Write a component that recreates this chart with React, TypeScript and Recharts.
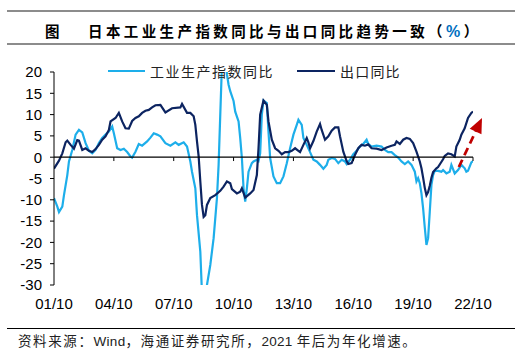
import React from 'react';
import { LineChart, Line, XAxis, YAxis, ReferenceLine } from 'recharts';

// x = months since 2001-10
const tickMonths = [0, 36, 72, 108, 144, 180, 216, 252];
const tickLabels = ['01/10', '04/10', '07/10', '10/10', '13/10', '16/10', '19/10', '22/10'];
const yTicks = [-30, -25, -20, -15, -10, -5, 0, 5, 10, 15, 20];

const seriesNames = ['工业生产指数同比', '出口同比'];
const seriesColors = ['#1DAEEA', '#0C2461'];

const ipMonths = [0, 2, 3, 5, 6, 8, 9, 11, 13, 15, 17, 19, 21, 23, 25, 27, 29, 31, 33, 35, 36, 38, 40, 42, 44, 46, 47, 49, 51, 53, 56, 58, 60, 62, 64, 67, 70, 73, 75, 78, 80, 82, 83, 85, 86, 88, 89, 90, 91, 92, 94, 96, 98, 99, 100, 101, 102, 103, 104, 105, 106, 108, 109, 111, 112, 113, 114, 115, 116, 117, 119, 120, 122, 123, 124, 125, 126, 128, 129, 130, 132, 134, 136, 138, 140, 142, 144, 146, 147, 149, 150, 152, 154, 156, 158, 160, 162, 164, 165, 167, 169, 171, 173, 175, 176, 178, 180, 182, 184, 186, 188, 189, 191, 194, 197, 199, 201, 203, 205, 207, 209, 211, 213, 215, 217, 218, 219, 220, 221, 222, 223, 224, 225, 226, 227, 228, 229, 231, 233, 234, 236, 238, 239, 241, 243, 245, 247, 248, 249, 251, 252];
const ipYoY = [-9.6, -11.6, -12.9, -11.6, -8.9, -4.2, -1.0, 1.7, 5.3, 6.4, 5.8, 3.3, 1.5, 0.9, 1.7, 3.3, 4.5, 5.3, 6.0, 7.2, 5.6, 2.1, 1.7, 2.0, 1.2, 0.2, -0.1, 1.3, 3.1, 2.7, 3.7, 4.6, 5.6, 5.3, 4.9, 3.3, 2.7, 3.5, 2.9, 3.5, 2.5, -1.0, -3.4, -7.3, -13.6, -22.2, -32, -36, -33, -30, -25.3, -19, -9.6, -1.8, 10, 21.7, 27, 25, 19.5, 17, 15.5, 13.2, 10.7, 8.4, 4.5, -0.2, -7.3, -10.4, -7.3, -3.4, -1.4, -1.0, -0.6, -0.9, 0.9, 10, 13.3, 12.7, 6, -0.2, -4.5, -6.1, -6.1, -4.5, -1.4, 2.1, 5.3, 7.6, 8.8, 7.6, 4.5, 2.9, 1.2, -0.6, -1.0, -1.8, -2.7, -1.8, -0.6, -0.2, -0.4, -1.4, -0.6, -1.0, -1.6, -0.6, 0.7, 1.5, 2.5, 3.1, 4.1, 3.1, 2.5, 2.7, 2.5, 1.7, 1.2, 1.2, 0.5, -0.1, -1.0, -1.6, -1.0, -1.8, -3.4, -5.7, -4.9, -6.1, -8.5, -12, -16.5, -20.6, -19, -12.8, -6.5, -4.2, -3.2, -3.2, -3.4, -3.0, -3.8, -3.4, -1.8, -3.8, -3.0, -1.8, -2.6, -3.4, -3.2, -1.2, -0.9];

const exportMonths = [0, 3, 5, 7, 8, 10, 12, 14, 15, 17, 19, 21, 23, 25, 27, 29, 31, 33, 34, 37, 39, 41, 43, 45, 47, 49, 51, 53, 55, 57, 59, 61, 64, 67, 71, 76, 77, 80, 82, 84, 85, 86, 87, 88, 89, 90, 91, 92, 94, 97, 100, 102, 104, 106, 107, 110, 112, 113, 115, 118, 120, 122, 123, 124, 126, 128, 129, 131, 133, 135, 137, 139, 141, 143, 145, 147, 148, 150, 152, 153, 154, 156, 158, 160, 161, 163, 165, 167, 169, 171, 172, 174, 176, 177, 179, 181, 183, 185, 187, 189, 191, 194, 197, 200, 203, 205, 206, 208, 210, 212, 214, 216, 218, 220, 221, 222, 223, 224, 225, 226, 227, 228, 230, 231, 234, 235, 237, 239, 241, 242, 244, 245, 247, 249, 251, 252];
const exportYoY = [-2.7, -0.8, 0.9, 3.5, 3.9, 2.9, 2.0, 4.0, 3.9, 1.7, 2.1, 1.5, 1.2, 1.9, 2.9, 4.1, 4.9, 6.4, 8.4, 9.2, 10.4, 8.4, 6.8, 6.7, 8.5, 9.2, 9.6, 10.4, 10.9, 11.1, 11.7, 12.2, 12.3, 10.5, 11.5, 11.7, 12.5, 10.4, 10.4, 9.6, 7.6, 3.7, 0.2, -5.7, -11.2, -14.0, -13.6, -11.2, -9.6, -8.9, -7.9, -6.9, -5.7, -6.1, -7.5, -8.5, -8.1, -7.3, -9.5, -8.5, -7.7, -4.2, 2.1, 10.0, 13.3, 12.3, 8.4, 4.1, 2.1, 1.5, 0.7, 1.2, 1.2, 1.5, 2.1, 1.5, 1.2, 2.9, 4.5, 3.5, 2.1, 3.8, 6.0, 7.8, 6.4, 4.1, 4.9, 6.2, 7.0, 7.0, 4.9, 1.3, -0.9, -1.6, -1.4, 0.5, 2.1, 2.9, 2.7, 3.0, 2.1, 2.0, 1.7, 2.3, 2.7, 2.9, 3.7, 3.1, 4.1, 4.5, 4.3, 3.3, 1.3, -1.0, -2.6, -4.8, -7.2, -8.9, -8.2, -6.7, -4.8, -3.5, -2.6, -2.3, -0.5, 0.3, 0.9, 0.7, 0.2, 2.5, 4.1, 5.3, 6.8, 9.2, 10.4, 10.7];

// trend arrow (month, value)
const arrowTail = { m: 243.5, v: -2.3 };
const arrowTip = { m: 257.4, v: 9.2 };

const ipData = ipMonths.map((m, i) => ({ m, v: ipYoY[i] }));
const exportData = exportMonths.map((m, i) => ({ m, v: exportYoY[i] }));

const latin = '"Liberation Sans", Arial, "Noto Sans CJK SC", sans-serif';
const cjk = '"Noto Sans CJK SC", "Liberation Sans", sans-serif';

const ArrowShape = (props: any) => {
  const { x1, y1, x2, y2 } = props;
  const dx = x2 - x1;
  const dy = y2 - y1;
  const len = Math.hypot(dx, dy) || 1;
  const ux = dx / len;
  const uy = dy / len;
  const headLen = 15;
  const headW = 6.5;
  const bx = x2 - ux * headLen;
  const by = y2 - uy * headLen;
  const px = -uy;
  const py = ux;
  return (
    <g>
      <line x1={x1} y1={y1} x2={bx + ux * 1} y2={by + uy * 1} stroke="#C00000" strokeWidth={2.8} strokeDasharray="8 5" />
      <polygon
        points={`${x2},${y2} ${bx + px * headW},${by + py * headW} ${bx - px * headW},${by - py * headW}`}
        fill="#C00000"
      />
    </g>
  );
};

export default function App() {
  return (
    <div style={{ position: 'absolute', left: 0, top: 0, width: 525, height: 359, background: '#fff', overflow: 'hidden' }}>
      <div style={{ position: 'absolute', left: 7, top: 10, width: 508, height: 2, background: '#8C8C8C' }} />
      <div style={{ position: 'absolute', left: 7, top: 43, width: 508, height: 2, background: '#8C8C8C' }} />
      <div style={{ position: 'absolute', left: 45, top: 23.5, fontFamily: cjk, fontWeight: 700, fontSize: 14.5, lineHeight: '14.5px', color: '#000', whiteSpace: 'nowrap' }}>图</div>
      <div style={{ position: 'absolute', left: 88, top: 23.5, fontFamily: cjk, fontWeight: 700, fontSize: 14.5, lineHeight: '14.5px', letterSpacing: 3.4, color: '#000', whiteSpace: 'nowrap' }}>
        日本工业生产指数同比与出口同比趋势一致（<span style={{ color: '#0070C0', fontFamily: latin, fontSize: 16 }}>%</span>）
      </div>

      <div style={{ position: 'absolute', left: 0, top: 0 }}>
        <LineChart width={525} height={359} margin={{ top: 72, right: 52, bottom: 44, left: 0 }}>
          <XAxis
            dataKey="m"
            type="number"
            domain={[0, 252]}
            ticks={tickMonths}
            interval={0}
            allowDataOverflow
            tickFormatter={(v: number) => tickLabels[tickMonths.indexOf(v)] ?? ''}
            axisLine={false}
            tickLine={false}
            tickSize={6}
            tickMargin={7}
            height={30}
            tick={{ fontSize: 15, fill: '#000', fontFamily: latin }}
          />
          <YAxis
            type="number"
            domain={[-30, 20]}
            ticks={yTicks}
            interval={0}
            allowDataOverflow
            width={54}
            axisLine={{ stroke: '#000', strokeWidth: 1 }}
            tickLine={{ stroke: '#000', strokeWidth: 1 }}
            tickSize={4}
            tickMargin={8}
            tick={{ fontSize: 15, fill: '#000', fontFamily: latin }}
          />
          <Line
            data={ipData}
            dataKey="v"
            name={seriesNames[0]}
            type="linear"
            stroke={seriesColors[0]}
            strokeWidth={2.2}
            dot={false}
            activeDot={false}
            isAnimationActive={false}
          />
          <Line
            data={exportData}
            dataKey="v"
            name={seriesNames[1]}
            type="linear"
            stroke={seriesColors[1]}
            strokeWidth={2.2}
            dot={false}
            activeDot={false}
            isAnimationActive={false}
          />
          <ReferenceLine y={0} stroke="#000" strokeWidth={1.2} />
          {tickMonths.slice(1).map((m) => (
            <ReferenceLine
              key={m}
              segment={[{ x: m, y: 0 }, { x: m, y: -0.9 }]}
              stroke="#000"
              strokeWidth={1}
            />
          ))}
          <ReferenceLine
            segment={[{ x: arrowTail.m, y: arrowTail.v }, { x: arrowTip.m, y: arrowTip.v }]}
            ifOverflow="visible"
            shape={ArrowShape}
          />
        </LineChart>
      </div>

      {/* legend */}
      <div style={{ position: 'absolute', left: 108, top: 70, width: 37, height: 2.2, background: seriesColors[0] }} />
      <div style={{ position: 'absolute', left: 150, top: 64, fontFamily: cjk, fontSize: 14, lineHeight: '14px', letterSpacing: 1.5, color: '#222', whiteSpace: 'nowrap' }}>{seriesNames[0]}</div>
      <div style={{ position: 'absolute', left: 297, top: 70, width: 38, height: 2.2, background: seriesColors[1] }} />
      <div style={{ position: 'absolute', left: 340, top: 64, fontFamily: cjk, fontSize: 14, lineHeight: '14px', letterSpacing: 1.2, color: '#222', whiteSpace: 'nowrap' }}>{seriesNames[1]}</div>

      <div style={{ position: 'absolute', left: 7, top: 328, width: 508, height: 1, background: '#000' }} />
      <div style={{ position: 'absolute', left: 18, top: 334, fontFamily: cjk, fontSize: 13.5, lineHeight: '13.5px', letterSpacing: 1.6, color: '#222', whiteSpace: 'nowrap' }}>
        资料来源：<span style={{ fontFamily: latin, letterSpacing: 0.3 }}>Wind</span>，海通证券研究所，<span style={{ fontFamily: latin, letterSpacing: 0.3 }}>2021 </span>年后为年化增速。
      </div>
    </div>
  );
}
